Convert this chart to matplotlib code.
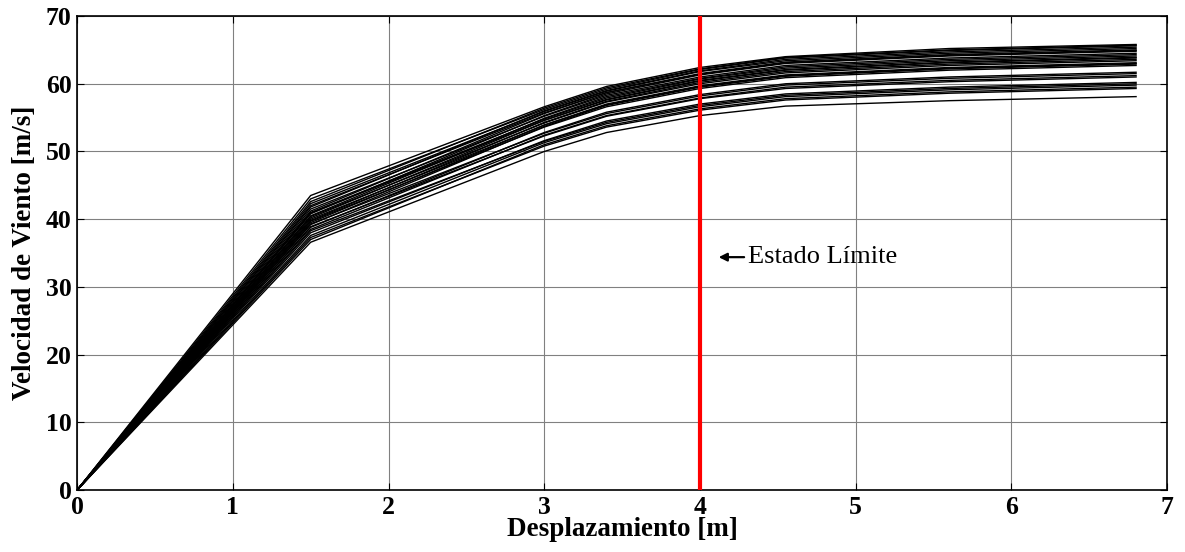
import numpy as np
import matplotlib
matplotlib.use("Agg")
import matplotlib.pyplot as plt

plt.rcParams['font.family'] = ['Liberation Serif', 'DejaVu Serif']

# desplazamientos de los nodos de cada curva [m]
desp = [0, 1.5, 3.0, 3.4, 4.0, 4.55, 5.6, 6.8]

# velocidades de viento [m/s] para cada curva
curvas = [
    [0, 43.5, 56.6, 59.6, 62.4, 64.0, 65.2, 65.8],
    [0, 42.6, 56.4, 59.4, 62.2, 63.9, 65.0, 65.7],
    [0, 43.0, 56.2, 59.2, 62.1, 63.8, 64.9, 65.6],
    [0, 41.8, 56.0, 59.0, 61.9, 63.6, 64.7, 65.4],
    [0, 42.3, 55.9, 58.9, 61.8, 63.4, 64.5, 65.2],
    [0, 41.2, 55.6, 58.7, 61.5, 63.2, 64.3, 65.0],
    [0, 42.0, 55.7, 58.7, 61.4, 63.1, 64.2, 64.9],
    [0, 40.8, 55.3, 58.5, 61.3, 63.0, 64.1, 64.8],
    [0, 41.5, 55.2, 58.3, 61.0, 62.7, 63.8, 64.5],
    [0, 40.5, 54.9, 58.1, 60.8, 62.5, 63.6, 64.3],
    [0, 41.0, 54.8, 57.9, 60.7, 62.3, 63.4, 64.1],
    [0, 40.2, 54.6, 57.7, 60.5, 62.1, 63.2, 63.9],
    [0, 40.9, 54.6, 57.6, 60.4, 62.0, 63.1, 63.8],
    [0, 39.8, 54.3, 57.4, 60.2, 61.8, 62.9, 63.6],
    [0, 40.4, 54.2, 57.3, 60.0, 61.6, 62.7, 63.4],
    [0, 39.5, 53.9, 57.0, 59.7, 61.3, 62.4, 63.1],
    [0, 40.0, 53.9, 56.9, 59.6, 61.2, 62.3, 63.0],
    [0, 39.2, 53.7, 56.8, 59.5, 61.1, 62.2, 62.9],
    [0, 39.7, 53.6, 56.6, 59.3, 60.9, 62.0, 62.7],
    [0, 38.8, 52.8, 55.8, 58.4, 60.0, 61.0, 61.7],
    [0, 39.3, 52.7, 55.6, 58.2, 59.8, 60.8, 61.5],
    [0, 38.5, 52.4, 55.3, 57.9, 59.5, 60.5, 61.2],
    [0, 38.9, 52.3, 55.2, 57.8, 59.3, 60.3, 61.0],
    [0, 38.0, 51.6, 54.5, 57.0, 58.5, 59.5, 60.2],
    [0, 38.3, 51.5, 54.3, 56.8, 58.3, 59.3, 60.0],
    [0, 37.6, 51.3, 54.1, 56.6, 58.1, 59.1, 59.8],
    [0, 37.0, 51.0, 53.8, 56.3, 57.8, 58.8, 59.5],
    [0, 37.3, 50.8, 53.6, 56.1, 57.6, 58.6, 59.3],
    [0, 36.6, 50.0, 52.8, 55.3, 56.7, 57.5, 58.1],
]

estado_limite = 4.0

fig = plt.figure(figsize=(11.85, 5.52), dpi=100)
ax = fig.add_axes([0.065, 0.112, 0.92, 0.859])

for v in curvas:
    ax.plot(desp, v, color='black', linewidth=1.0)

ax.axvline(estado_limite, color='red', linewidth=3, zorder=3)
ax.annotate('Estado Límite', xy=(4.12, 34.4), xytext=(4.31, 34.4),
            fontsize=19, va='center', ha='left',
            arrowprops=dict(arrowstyle='-|>', color='black', lw=1.6,
                            mutation_scale=12, shrinkA=1, shrinkB=0))

ax.set_xlim(0, 7)
ax.set_ylim(0, 70)
ax.set_xticks(range(0, 8))
ax.set_yticks(range(0, 71, 10))
ax.grid(True, color='#808080', linewidth=0.8)
ax.tick_params(direction='in', top=True, right=True, labelsize=18.5, pad=4, length=5)
for lbl in ax.get_xticklabels() + ax.get_yticklabels():
    lbl.set_fontweight('bold')
for s in ax.spines.values():
    s.set_linewidth(1.2)

ax.set_xlabel('Desplazamiento [m]', fontsize=19.5, fontweight='bold', labelpad=-1)
ax.set_ylabel('Velocidad de Viento [m/s]', fontsize=19.5, fontweight='bold', labelpad=6)

fig.savefig('out.png', dpi=100)
